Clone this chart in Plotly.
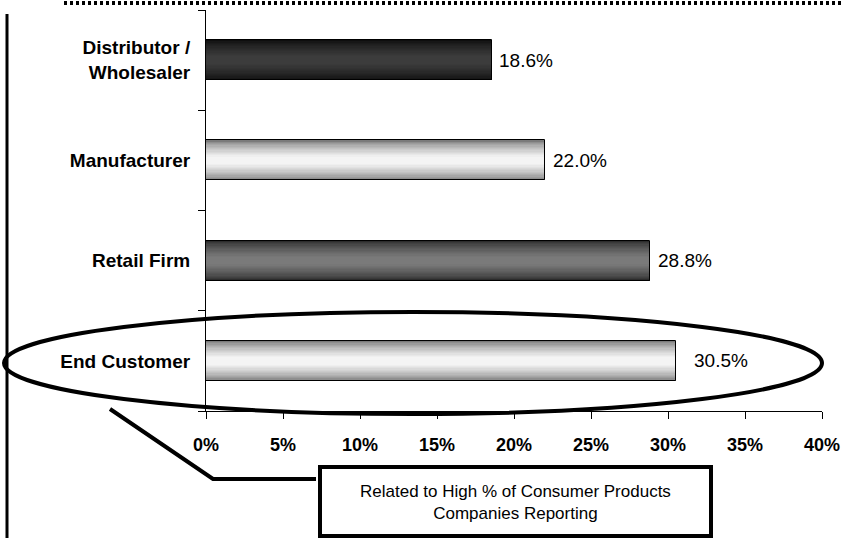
import plotly.graph_objects as go

# Categories listed bottom-to-top so the first row sits at the top of the chart
categories = ["End Customer", "Retail Firm", "Manufacturer", "Distributor /<br>Wholesaler"]
values = [30.5, 28.8, 22.0, 18.6]
value_labels = ["30.5%", "28.8%", "22.0%", "18.6%"]
x_ticks = [0, 5, 10, 15, 20, 25, 30, 35, 40]
x_tick_labels = ["0%", "5%", "10%", "15%", "20%", "25%", "30%", "35%", "40%"]
callout_lines = ["Related to High % of Consumer Products", "Companies Reporting"]

# Bar shading: (edge colour, centre colour) for each bar, bottom-to-top
edge_rgb = [(122, 122, 122), (44, 44, 44), (122, 122, 122), (14, 14, 14)]
centre_rgb = [(244, 244, 244), (122, 122, 122), (244, 244, 244), (60, 60, 60)]
label_shift = [16, 6, 6, 5]

W, H = 850, 538
L, R, T, B = 206, 28, 10, 127
PW, PH = W - L - R, H - T - B
BAR_W = 0.4

FONT = "Liberation Sans, Arial, sans-serif"


def px(x):
    return (x - L) / PW


def py(y):
    return (H - B - y) / PH


def mix(a, b, t):
    return "rgb(%d,%d,%d)" % tuple(round(a[i] + (b[i] - a[i]) * t) for i in range(3))


fig = go.Figure()

# Stack progressively thinner bars to build a shaded, tube-like fill
layers = 16
for k in range(layers):
    frac = k / layers
    t = min(1.0, (frac * 1.25) ** 0.7)
    fig.add_trace(go.Bar(
        x=values, y=categories, orientation="h",
        width=BAR_W * (1 - frac),
        marker=dict(color=[mix(e, c, t) for e, c in zip(edge_rgb, centre_rgb)],
                    line=dict(width=0)),
        hoverinfo="skip", showlegend=False,
    ))

# Outline on top
fig.add_trace(go.Bar(
    x=values, y=categories, orientation="h", width=BAR_W,
    marker=dict(color="rgba(0,0,0,0)", line=dict(color="#000", width=1)),
    showlegend=False,
))

for v, c, lab, s in zip(values, categories, value_labels, label_shift):
    fig.add_annotation(x=v, y=c, text=lab, xanchor="left", yanchor="middle",
                       xshift=s, showarrow=False,
                       font=dict(family=FONT, size=19, color="#000"))

shapes = []
# Dotted rule along the top edge
shapes.append(dict(type="line", xref="paper", yref="paper",
                   x0=px(64), x1=px(842), y0=py(3), y1=py(3),
                   line=dict(color="#000", width=4, dash="3px,3px")))
# Vertical rule at the left edge
shapes.append(dict(type="line", xref="paper", yref="paper",
                   x0=px(7), x1=px(7), y0=py(14), y1=py(540),
                   line=dict(color="#000", width=3)))
# Ellipse around the End Customer row
shapes.append(dict(type="circle", xref="paper", yref="paper",
                   x0=px(4), x1=px(822), y0=py(312), y1=py(414),
                   line=dict(color="#000", width=4)))
# Callout leader
shapes.append(dict(type="path", xref="paper", yref="paper",
                   path="M %f,%f L %f,%f L %f,%f" % (px(110), py(409), px(213), py(479),
                                                     px(316), py(479)),
                   line=dict(color="#000", width=4)))
# Callout box
shapes.append(dict(type="rect", xref="paper", yref="paper",
                   x0=px(320), x1=px(711), y0=py(467), y1=py(536),
                   fillcolor="#fff", line=dict(color="#000", width=4)))

fig.add_annotation(xref="paper", yref="paper", x=px(515.5), y=py(503),
                   text="<br>".join(callout_lines), showarrow=False,
                   xanchor="center", yanchor="middle",
                   font=dict(family=FONT, size=17, color="#000"))

fig.update_layout(
    width=W, height=H,
    margin=dict(l=L, r=R, t=T, b=B, pad=0),
    paper_bgcolor="#fff", plot_bgcolor="#fff",
    barmode="overlay", bargap=0,
    shapes=shapes,
    xaxis=dict(range=[0, 40], tickvals=x_ticks, ticktext=x_tick_labels,
               showgrid=False, zeroline=False, showline=True,
               linecolor="#000", linewidth=1,
               ticks="outside", ticklen=7, tickcolor="#000", tickwidth=1,
               tickfont=dict(family=FONT, size=18, color="#000", weight="bold"),
               ticklabelstandoff=10, fixedrange=True),
    yaxis=dict(categoryorder="array", categoryarray=categories,
               showgrid=False, zeroline=False, showline=True,
               linecolor="#000", linewidth=1,
               ticks="outside", ticklen=7, tickcolor="#000", tickwidth=1,
               tickson="boundaries",
               tickfont=dict(family=FONT, size=19, color="#000", weight="bold"),
               ticklabelstandoff=11, fixedrange=True),
)

fig.write_html("out.html")
